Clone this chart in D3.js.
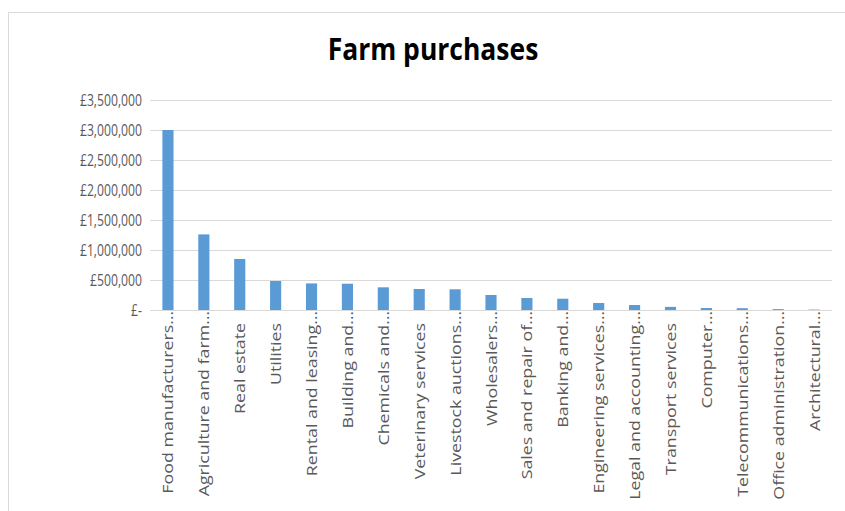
<!DOCTYPE html>
<html>
<head>
<meta charset="utf-8">
<script src="https://cdn.jsdelivr.net/npm/d3@7"></script>
<style>
  body { margin: 0; background: #fff; }
  svg { display: block; }
</style>
</head>
<body>
<svg id="chart" width="845" height="511"></svg>
<script>
// categories as they appear on the axis (truncated in the original)
const categories = [
  "Food manufacturers…", "Agriculture and farm…", "Real estate", "Utilities",
  "Rental and leasing…", "Building and…", "Chemicals and…", "Veterinary services",
  "Livestock auctions…", "Wholesalers…", "Sales and repair of…", "Banking and…",
  "Engineering services…", "Legal and accounting…", "Transport services", "Computer…",
  "Telecommunications…", "Office administration…", "Architectural…"
];
const purchases = [
  3000000, 1260000, 850000, 483000, 443000, 438000, 378000, 350000,
  345000, 250000, 200000, 188000, 117000, 83000, 52000, 33000,
  30000, 15000, 7000
];
const yTicks = [0, 500000, 1000000, 1500000, 2000000, 2500000, 3000000, 3500000];

const svg = d3.select('#chart');
const margin = { left: 150, right: 13, top: 100, bottom: 201 };
const width = 845 - margin.left - margin.right;
const height = 511 - margin.top - margin.bottom;
const font = 'Open Sans, Arial';

// chart area border (only top and left are inside the window)
svg.append('rect')
  .attr('x', 8.5).attr('y', 12.5)
  .attr('width', 900).attr('height', 600)
  .attr('fill', 'none')
  .attr('stroke', '#d9d9d9');

svg.append('text')
  .attr('transform', 'translate(433,60) scale(1,1.15)')
  .attr('text-anchor', 'middle')
  .attr('font-family', font)
  .attr('font-weight', 'bold')
  .attr('font-size', '26.5px')
  .attr('fill', '#000')
  .text('Farm purchases');

const g = svg.append('g')
  .attr('transform', `translate(${margin.left},${margin.top})`);

const x = d3.scaleBand()
  .domain(categories)
  .range([0, width])
  .paddingInner(0.69)
  .paddingOuter(0.345);

const y = d3.scaleLinear()
  .domain([0, 3500000])
  .range([height, 0]);

const fmt = v => v === 0 ? '£-' : '£' + d3.format(',')(v);

// gridlines
g.selectAll('.grid')
  .data(yTicks)
  .join('line')
  .attr('class', 'grid')
  .attr('x1', 0).attr('x2', width)
  .attr('y1', d => Math.round(y(d)) + 0.5)
  .attr('y2', d => Math.round(y(d)) + 0.5)
  .attr('stroke', '#d9d9d9')
  .attr('stroke-width', 1);

// y labels (text in the original is tall and narrow)
g.selectAll('.ylab')
  .data(yTicks)
  .join('text')
  .attr('class', 'ylab')
  .attr('transform', d => `translate(-8,${y(d)}) scale(1,1.4)`)
  .attr('dy', '0.35em')
  .attr('text-anchor', 'end')
  .attr('font-family', font)
  .attr('font-size', '12.2px')
  .attr('fill', '#595959')
  .text(fmt);

// bars
g.selectAll('.bar')
  .data(purchases)
  .join('rect')
  .attr('class', 'bar')
  .attr('x', (d, i) => x(categories[i]))
  .attr('width', x.bandwidth())
  .attr('y', d => y(d))
  .attr('height', d => height - y(d))
  .attr('fill', '#5b9bd5');

// category labels, rotated; cut-off ones reach a little closer to the axis
g.selectAll('.xlab')
  .data(categories)
  .join('text')
  .attr('class', 'xlab')
  .attr('transform', d => {
    const top = d.endsWith('…') ? 1 : 13;
    return `translate(${x(d) + x.bandwidth() / 2 + 5.5},${height + top}) scale(1,1.27) rotate(-90)`;
  })
  .attr('text-anchor', 'end')
  .attr('font-family', font)
  .attr('font-size', '14px')
  .attr('fill', '#595959')
  .text(d => d);
</script>
</body>
</html>
